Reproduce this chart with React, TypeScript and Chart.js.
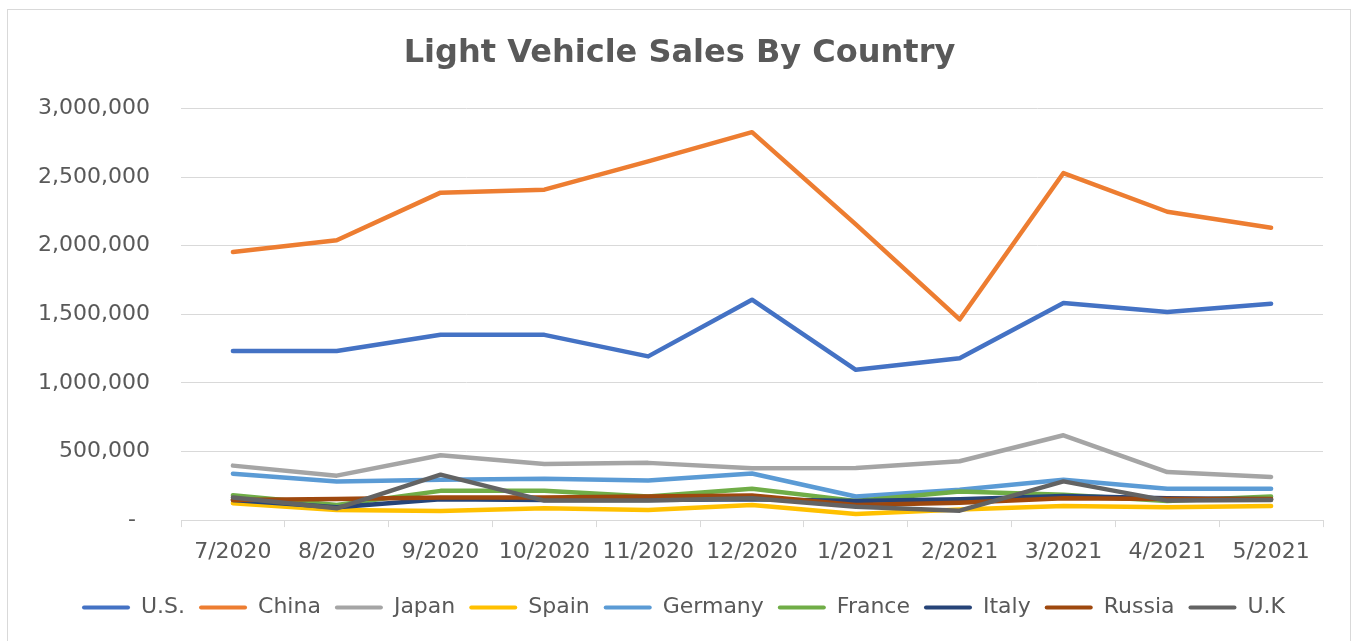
import React, { useEffect, useRef } from "react";
import { Chart, registerables } from "chart.js";

Chart.register(...registerables);

const categories = ["7/2020", "8/2020", "9/2020", "10/2020", "11/2020", "12/2020", "1/2021", "2/2021", "3/2021", "4/2021", "5/2021"];

const usSales = [1232000, 1232000, 1350000, 1350000, 1193000, 1606000, 1095000, 1179000, 1582000, 1517000, 1577000];
const chinaSales = [1954000, 2039000, 2386000, 2408000, 2614000, 2827000, 2155000, 1462000, 2529000, 2247000, 2131000];
const japanSales = [397000, 324000, 473000, 409000, 417000, 378000, 380000, 429000, 618000, 350000, 314000];
const spainSales = [123000, 74000, 66000, 86000, 74000, 110000, 44000, 78000, 103000, 93000, 103000];
const germanySales = [338000, 282000, 294000, 301000, 289000, 340000, 172000, 221000, 294000, 228000, 228000];
const franceSales = [181000, 110000, 213000, 213000, 172000, 228000, 140000, 208000, 184000, 140000, 172000];
const italySales = [147000, 93000, 152000, 147000, 147000, 152000, 140000, 152000, 176000, 159000, 152000];
const russiaSales = [147000, 154000, 164000, 164000, 172000, 179000, 110000, 127000, 159000, 154000, 154000];
const ukSales = [164000, 86000, 331000, 142000, 142000, 159000, 98000, 69000, 282000, 142000, 147000];

const seriesNames = ["U.S.", "China", "Japan", "Spain", "Germany", "France", "Italy", "Russia", "U.K"];
const seriesValues = [usSales, chinaSales, japanSales, spainSales, germanySales, franceSales, italySales, russiaSales, ukSales];
const seriesColors = ["#4472C4", "#ED7D31", "#A5A5A5", "#FFC000", "#5B9BD5", "#70AD47", "#264478", "#9E480E", "#636363"];

const yTicks = [0, 500000, 1000000, 1500000, 2000000, 2500000, 3000000];

const TEXT = "#595959";
const GRID = "#d9d9d9";
const FONT = "DejaVu Sans";

const shiftBoxes = {
  id: "shiftBoxes",
  afterLayout(chart: any) {
    if (chart.legend) {
      chart.legend.left += 17;
      chart.legend.right += 17;
    }
    if (chart.titleBlock) {
      chart.titleBlock.left += 13;
      chart.titleBlock.right += 13;
    }
  },
};

export default function App() {
  const ref = useRef<HTMLCanvasElement>(null);

  useEffect(() => {
    if (!ref.current) return;
    const chart = new Chart(ref.current, {
      type: "line",
      data: {
        labels: categories,
        datasets: seriesNames.map((name, i) => ({
          label: name,
          data: seriesValues[i],
          borderColor: seriesColors[i],
          backgroundColor: seriesColors[i],
          borderWidth: 4.5,
          pointRadius: 0,
          pointHoverRadius: 0,
          tension: 0,
          borderCapStyle: "round",
          borderJoinStyle: "round",
          fill: false,
          order: seriesNames.length - i,
        })),
      },
      plugins: [shiftBoxes],
      options: {
        responsive: false,
        maintainAspectRatio: false,
        animation: false,
        layout: { padding: { left: 10, right: 30, top: 10, bottom: 12.5 } },
        plugins: {
          title: {
            display: true,
            text: "Light Vehicle Sales By Country",
            color: TEXT,
            font: { family: FONT, size: 32, weight: "bold" },
            padding: { top: 24, bottom: 36 },
          },
          legend: {
            position: "bottom",
            labels: {
              boxWidth: 48,
              boxHeight: 4,
              padding: 14,
              color: TEXT,
              font: { family: FONT, size: 22 },
              sort: (a: any, b: any) => a.datasetIndex - b.datasetIndex,
              generateLabels: (c: any) => {
                const items = (Chart.defaults.plugins.legend.labels as any).generateLabels(c);
                return items.map((it: any) => ({
                  ...it,
                  fillStyle: it.strokeStyle,
                  lineWidth: 0,
                  borderRadius: 2,
                }));
              },
            },
          },
          tooltip: { enabled: false },
        },
        scales: {
          x: {
            offset: true,
            grid: {
              offset: true,
              drawOnChartArea: false,
              drawTicks: true,
              tickLength: 7,
              color: GRID,
            },
            border: { display: true, color: GRID },
            ticks: {
              color: TEXT,
              font: { family: FONT, size: 22 },
              padding: 12,
              maxRotation: 0,
              autoSkip: false,
            },
            afterFit: (s: any) => {
              s.height += 5;
            },
          },
          y: {
            min: 0,
            max: 3000000,
            afterBuildTicks: (s: any) => {
              s.ticks = yTicks.map((v) => ({ value: v }));
            },
            grid: { color: GRID, drawTicks: false },
            border: { display: false },
            ticks: {
              color: TEXT,
              font: { family: FONT, size: 22 },
              padding: 31,
              callback: (v: any) => (Number(v) === 0 ? "-  " : Number(v).toLocaleString("en-US")),
            },
            afterFit: (s: any) => {
              s.width = 171;
            },
          },
        },
      },
    });
    return () => chart.destroy();
  }, []);

  return (
    <div style={{ position: "absolute", left: 0, top: 0, width: 1353, height: 641, overflow: "hidden", background: "#fff" }}>
      <div
        style={{
          position: "absolute",
          left: 7,
          top: 9,
          width: 1344,
          height: 700,
          border: `1px solid ${GRID}`,
          boxSizing: "border-box",
        }}
      />
      <canvas ref={ref} width={1353} height={641} style={{ position: "absolute", left: 0, top: 0 }} />
    </div>
  );
}
